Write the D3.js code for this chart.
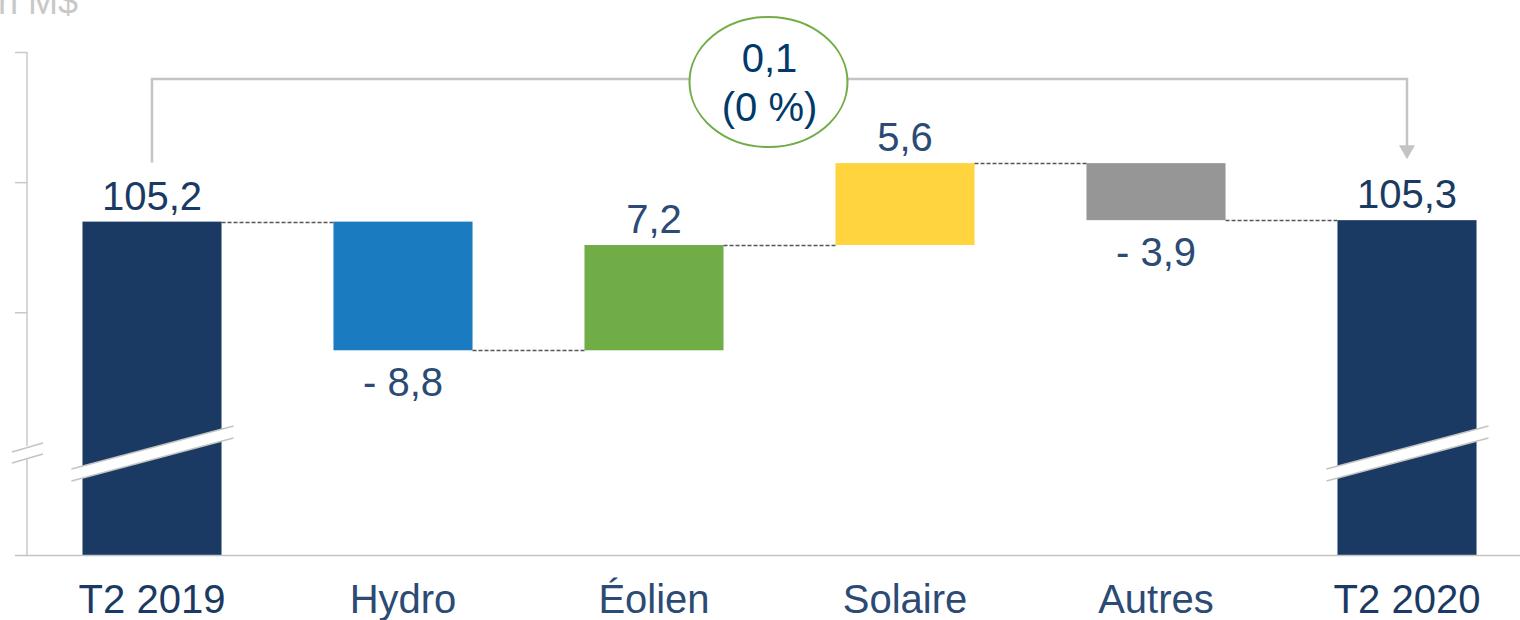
<!DOCTYPE html>
<html>
 <head>
   <meta charset="utf-8">
   <title>Variation par secteur</title>
   <script type="text/javascript" src="https://cdn.jsdelivr.net/npm/d3@7"></script>
   <style type="text/css">
		body {
			margin: 0;
			background: #fff;
		}
		svg {
			display: block;
		}
		text {
			font-family: "Liberation Sans", Arial, sans-serif;
		}
		.axis line, .axis path {
			stroke: #c8c8c8;
			stroke-width: 1.5;
		}
   </style>
 </head>
 <body>
	<div class="main"></div>
   <script type="text/javascript">

	var categories = ['T2 2019', 'Hydro', 'Éolien', 'Solaire', 'Autres', 'T2 2020'];
	var values = [105.2, -8.8, 7.2, 5.6, -3.9, 105.3];
	var kinds = ['total', 'delta', 'delta', 'delta', 'delta', 'total'];
	var valueLabels = ['105,2', '- 8,8', '7,2', '5,6', '- 3,9', '105,3'];
	var barColors = ['#1b3a63', '#1b7bc1', '#70ad47', '#ffd43f', '#969696', '#1b3a63'];
	var tickValues = [99.0, 107.9, 116.8];
	var variation = ['0,1', '(0 %)'];
	var unitLabel = 'en M$';

	var width = 1520, height = 620;
	var navy = '#1b3a63', grey = '#c4c4c4';

	var svg = d3.select('.main').append('svg')
		.attr('width', width)
		.attr('height', height);

	var x = d3.scaleBand()
		.domain(categories)
		.range([27, 1532])
		.paddingInner(0.446)
		.paddingOuter(0.221);

	// broken axis: the lower part of the scale is cut off
	var y = d3.scaleLinear()
		.domain([82.4, 116.8])
		.range([555, 52]);

	// running totals for the waterfall
	var bars = [], run = 0;
	values.forEach(function(v, i) {
		var d = { cat: categories[i], kind: kinds[i], label: valueLabels[i], color: barColors[i], v: v };
		if (kinds[i] == 'total') {
			d.y0 = y.domain()[0]; d.y1 = v; run = v;
		} else {
			d.y0 = run; d.y1 = run + v; run = run + v;
		}
		d.level = run;
		bars.push(d);
	});

	// y axis (no labels)
	svg.append('g')
		.attr('class', 'axis')
		.attr('transform', 'translate(27,0)')
		.call(d3.axisLeft(y).tickValues(tickValues).tickSize(12).tickFormat('').tickSizeOuter(0))
		.select('.domain').attr('d', 'M0,' + y(116.8) + 'V' + y.range()[0]);

	svg.append('text')
		.attr('x', 78)
		.attr('y', 14)
		.attr('text-anchor', 'end')
		.attr('font-size', 36)
		.attr('fill', '#c8c8c8')
		.text(unitLabel);

	// axis break marks
	var axBreak = svg.append('g');
	axBreak.append('rect')
		.attr('x', 20).attr('y', 446).attr('width', 14).attr('height', 12)
		.attr('fill', '#fff');
	[452, 463].forEach(function(yy) {
		axBreak.append('line')
			.attr('x1', 12).attr('y1', yy).attr('x2', 43).attr('y2', yy - 9)
			.attr('stroke', grey).attr('stroke-width', 1.5);
	});

	// bars
	svg.selectAll('rect.bar').data(bars)
		.enter().append('rect')
		.attr('class', 'bar')
		.attr('x', function(d) { return x(d.cat); })
		.attr('width', x.bandwidth())
		.attr('y', function(d) { return y(Math.max(d.y0, d.y1)); })
		.attr('height', function(d) { return Math.abs(y(d.y0) - y(d.y1)); })
		.attr('fill', function(d) { return d.color; });

	// baseline
	svg.append('line')
		.attr('x1', 15).attr('x2', width)
		.attr('y1', y.range()[0] + 0.5).attr('y2', y.range()[0] + 0.5)
		.attr('stroke', grey).attr('stroke-width', 1.5);

	// break bands across the totals
	bars.filter(function(d) { return d.kind == 'total'; }).forEach(function(d) {
		var x1 = x(d.cat) - 11, x2 = x(d.cat) + x.bandwidth() + 12;
		var yl = 469, yr = 426, t = 12;
		svg.append('path')
			.attr('d', 'M' + x1 + ',' + yl + 'L' + x2 + ',' + yr + 'L' + x2 + ',' + (yr + t) + 'L' + x1 + ',' + (yl + t) + 'Z')
			.attr('fill', '#fff');
		[0, t].forEach(function(o) {
			svg.append('line')
				.attr('x1', x1).attr('y1', yl + o).attr('x2', x2).attr('y2', yr + o)
				.attr('stroke', grey).attr('stroke-width', 1.5);
		});
	});

	// dashed connectors
	svg.selectAll('line.conn').data(bars.slice(0, -1))
		.enter().append('line')
		.attr('class', 'conn')
		.attr('x1', function(d) { return x(d.cat) + x.bandwidth(); })
		.attr('x2', function(d, i) { return x(categories[i + 1]); })
		.attr('y1', function(d) { return Math.round(y(d.level)) + 0.5; })
		.attr('y2', function(d) { return Math.round(y(d.level)) + 0.5; })
		.attr('stroke', '#555')
		.attr('stroke-width', 1.3)
		.attr('stroke-dasharray', '4,2');

	// value labels
	svg.selectAll('text.val').data(bars)
		.enter().append('text')
		.attr('class', 'val')
		.attr('x', function(d) { return x(d.cat) + x.bandwidth() / 2; })
		.attr('y', function(d) {
			if (d.v < 0) return y(d.y1) + 46;
			return y(d.y1) - 12;
		})
		.attr('text-anchor', 'middle')
		.attr('font-size', 40)
		.attr('fill', function(d) { return d.kind == 'total' ? navy : '#2b4a74'; })
		.text(function(d) { return d.label; });

	// category labels
	svg.selectAll('text.cat').data(bars)
		.enter().append('text')
		.attr('class', 'cat')
		.attr('x', function(d) { return x(d.cat) + x.bandwidth() / 2; })
		.attr('y', 613)
		.attr('text-anchor', 'middle')
		.attr('font-size', 40)
		.attr('fill', function(d) { return d.kind == 'total' ? navy : '#2b4a74'; })
		.text(function(d) { return d.cat; });

	// variation bracket
	var first = bars[0], last = bars[bars.length - 1];
	var bx1 = x(first.cat) + x.bandwidth() / 2, bx2 = x(last.cat) + x.bandwidth() / 2;
	var by = 79;
	svg.append('path')
		.attr('d', 'M' + bx1 + ',' + (y(first.y1) - 59) + 'V' + by + 'H' + bx2 + 'V' + (y(last.y1) - 74))
		.attr('fill', 'none')
		.attr('stroke', grey)
		.attr('stroke-width', 2.5);
	svg.append('path')
		.attr('d', 'M' + (bx2 - 8) + ',' + (y(last.y1) - 75) + 'L' + (bx2 + 8) + ',' + (y(last.y1) - 75) + 'L' + bx2 + ',' + (y(last.y1) - 61) + 'Z')
		.attr('fill', grey);

	var cx = (bx1 + bx2) / 2 - 11;
	svg.append('ellipse')
		.attr('cx', cx).attr('cy', 82)
		.attr('rx', 79).attr('ry', 65)
		.attr('fill', '#fff')
		.attr('stroke', '#70ad47')
		.attr('stroke-width', 2);
	svg.selectAll('text.var').data(variation)
		.enter().append('text')
		.attr('class', 'var')
		.attr('x', cx + 1)
		.attr('y', function(d, i) { return 72 + i * 49; })
		.attr('text-anchor', 'middle')
		.attr('font-size', 40)
		.attr('fill', '#003a6b')
		.text(function(d) { return d; });

    </script>
 </body>
</html>
